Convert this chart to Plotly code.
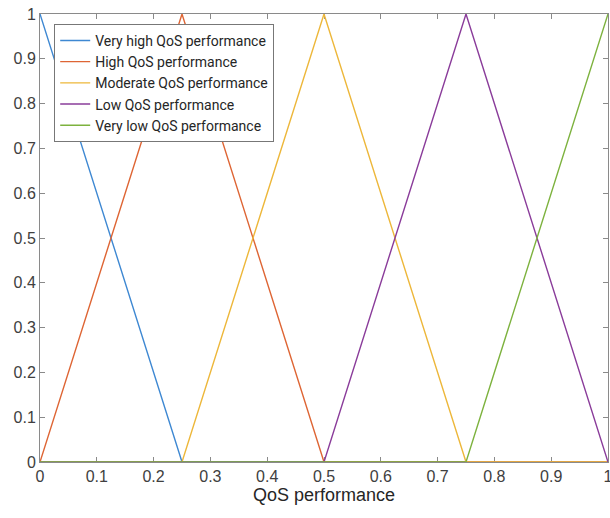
import plotly.graph_objects as go

# Membership functions for QoS performance levels (triangular)
x_pts = [0, 0.25, 0.5, 0.75, 1]
series_names = [
    "Very high QoS performance",
    "High QoS performance",
    "Moderate QoS performance",
    "Low QoS performance",
    "Very low QoS performance",
]
very_high = [1, 0, 0, 0, 0]
high = [0, 1, 0, 0, 0]
moderate = [0, 0, 1, 0, 0]
low = [0, 0, 0, 1, 0]
very_low = [0, 0, 0, 0, 1]
series_values = [very_high, high, moderate, low, very_low]
colors = ["#3E88D2", "#DE6534", "#EDB73A", "#8A3C9A", "#7DB23E"]

x_ticks = [0, 0.1, 0.2, 0.3, 0.4, 0.5, 0.6, 0.7, 0.8, 0.9, 1]
x_tick_text = ["0", "0.1", "0.2", "0.3", "0.4", "0.5", "0.6", "0.7", "0.8", "0.9", "1"]
y_ticks = x_ticks
y_tick_text = x_tick_text

fig = go.Figure()
for name, vals, col in zip(series_names, series_values, colors):
    fig.add_trace(go.Scatter(x=x_pts, y=vals, mode="lines", name=name,
                             line=dict(color=col, width=1.4)))

axis_common = dict(
    showgrid=False, zeroline=False, showline=True, mirror="ticks",
    linecolor="#8a8a8a", linewidth=1, ticks="inside", ticklen=5,
    tickcolor="#8a8a8a", layer="below traces", ticklabeloverflow="allow",
    automargin=False,
    tickfont=dict(size=16, color="#404040", family="Liberation Sans"),
)

fig.update_layout(
    width=610, height=518,
    margin=dict(l=40, r=2, t=14, b=56),
    paper_bgcolor="white", plot_bgcolor="white",
    xaxis=dict(range=[0, 1], tickvals=x_ticks, ticktext=x_tick_text,
               title=dict(text="QoS performance", standoff=4,
                          font=dict(size=18, color="#262626",
                                    family="Liberation Sans")),
               **axis_common),
    yaxis=dict(range=[0, 1], tickvals=y_ticks, ticktext=y_tick_text,
               **axis_common),
    legend=dict(x=0.025, y=0.978, xanchor="left", yanchor="top",
                bgcolor="white", bordercolor="#777777", borderwidth=1,
                font=dict(size=14, color="#262626", family="Roboto"),
                tracegroupgap=0, itemwidth=30),
    showlegend=True,
)

fig.write_html("out.html")
